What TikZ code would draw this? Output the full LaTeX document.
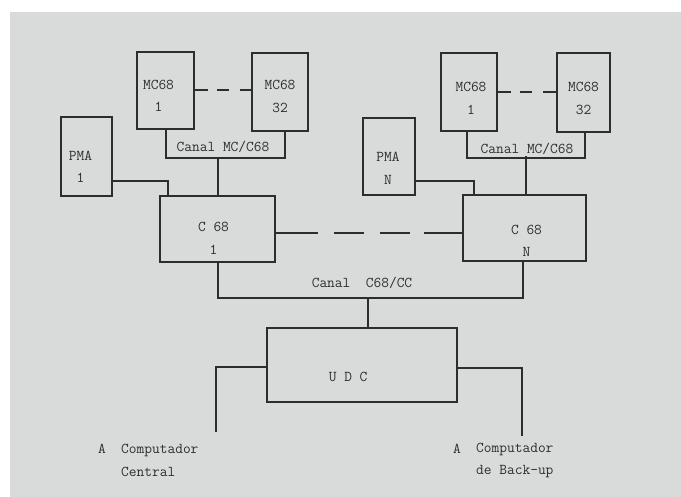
\documentclass[tikz,border=0pt]{standalone}
\usepackage{fontspec}
\definecolor{scan}{RGB}{217,219,219}
\definecolor{ink}{RGB}{45,45,45}
\begin{document}
\begin{tikzpicture}[x=1pt,y=-1pt,
    box/.style={draw=ink, line width=2pt, inner sep=0pt},
    lbl/.style={text=ink, font=\ttfamily\fontsize{15}{22.5}\selectfont, align=center, inner sep=0pt},
    wire/.style={draw=ink, line width=2pt},
    mcdash/.style={dash pattern=on 13pt off 9pt on 12pt off 11pt on 13pt},
    cdash/.style={dash pattern=on 42pt off 16pt on 30pt off 16pt on 30pt off 14pt on 40pt}]
    % fondo de la hoja escaneada
    \fill[white] (0,0) rectangle (681,497);
    \fill[scan] (10,12) rectangle (681,497);
    \useasboundingbox (0,0) rectangle (681,497);

    %% cajas: nombre/centro x/centro y/ancho/alto
    \foreach \n/\x/\y/\w/\h in
    {mcla/165.5/90.5/57/77,
        mclb/280/92/56/78,
        pmal/86.5/156.5/51/79,
        cl/217.5/229/115/66,
        mcra/469/92/56/78,
        mcrb/583.5/92.5/53/79,
        pmar/389/156.5/52/77,
        cr/524.5/228/123/66,
        udc/362/365/190/74
    }
    {
        \node[box, minimum width=\w, minimum height=\h] (\n) at (\x,\y) {};
    };

    %% textos dentro de las cajas (un poco bajos, como en la maquina de escribir)
    \foreach \n/\dx/\dy/\t in
    {mcla/-7/5.5/{MC68\\1},
        mclb/0/4.5/{MC68\\32},
        pmal/-6/10.5/{PMA\\1},
        cl/-4/9.5/{C 68\\1},
        mcra/2/6.5/{MC68\\1},
        mcrb/0/6/{MC68\\32},
        pmar/-1/12/{PMA\\N},
        cr/2/13/{C 68\\N},
        udc/-10/12/{U D C}
    }
    {
        \node[lbl] (\n-t) at ([shift={(\dx,\dy)}]\n.center) {\t};
    };

    % canales MC/C68
    \draw[wire, mcdash] (mcla.east) -- (mcla.east -| mclb.west);
    \draw[wire] (mcla.south) -- ++(0,28.5) -| ([xshift=5]mclb.south);
    \draw[wire] ([xshift=0.5]cl.north) -- ++(0,-37.5);
    \draw[wire] ([yshift=-24.5]pmal.east) -| ([xshift=9]cl.north west);
    \node[lbl] (canl) at (223,147) {Canal MC/C68};

    \draw[wire, mcdash] (mcra.east) -- (mcra.east -| mcrb.west);
    \draw[wire] ([xshift=-2]mcra.south) -- ++(0,26) -| ([xshift=1.5]mcrb.south);
    \draw[wire] ([xshift=1.5]cr.north) -- ++(0,-38);
    \draw[wire] ([yshift=-24.5]pmar.east) -| ([xshift=12]cr.north west);
    \node[lbl] (canr) at (527,149) {Canal MC/C68};

    % entre los C 68
    \coordinate (cdl) at ([yshift=-4]cl.east);
    \draw[wire, cdash] (cdl) -- (cdl -| cr.west);

    % canal C68/CC
    \draw[wire] (cl.south) -- ++(0,35.5) -| ([xshift=-1.5]cr.south);
    \draw[wire] ([xshift=6]udc.north) -- ++(0,-29.5);
    \node[lbl] (cancc) at (362,283) {Canal\ \ C68/CC};

    % hacia los computadores
    \coordinate (tocen) at (215.5,432);
    \coordinate (tobak) at (521.5,436);
    \draw[wire] ([yshift=-2.5]udc.west) -| (tocen);
    \draw[wire] ([yshift=-3.5]udc.east) -| (tobak);

    \node[lbl] (acen) at (102,449) {A};
    \node[lbl, align=left, anchor=west] (ccen) at (121,460.5) {Computador\\Central};
    \node[lbl] (abak) at (457,449) {A};
    \node[lbl, align=left, anchor=west] (cbak) at (476,460.5) {Computador\\de Back-up};
\end{tikzpicture}
\end{document}
